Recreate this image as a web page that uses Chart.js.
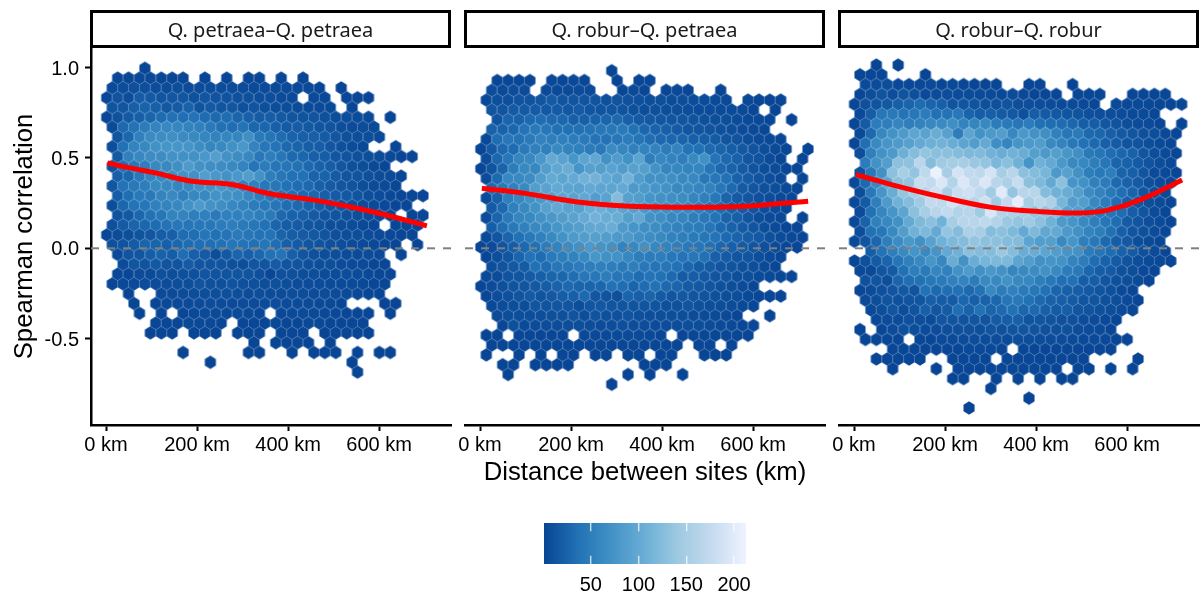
<!DOCTYPE html>
<html>
<head>
<meta charset="utf-8">
<script src="https://cdn.jsdelivr.net/npm/chart.js@4"></script>
<style>
body { margin: 0; background: #fff; overflow: hidden; }
canvas { position: absolute; left: 0; top: 0; }
.strip {
    position: absolute; top: 10px; width: 355px; height: 32px;
    border: 3px solid #000; text-align: center; color: #1a1a1a;
    font: 20px/33px "Noto Sans", sans-serif;
}
</style>
</head>
<body>
<canvas id="panel1" width="1300" height="599"></canvas>
<canvas id="panel2" width="1300" height="599"></canvas>
<canvas id="panel3" width="1300" height="599"></canvas>
<canvas id="colorbar" width="1200" height="599"></canvas>
<div class="strip" style="left:90px">Q. petraea–Q. petraea</div>
<div class="strip" style="left:464px">Q. robur–Q. petraea</div>
<div class="strip" style="left:838px">Q. robur–Q. robur</div>
<script>
// hex counts, one array per hex row from the top: [first column, counts...], 0 = empty cell
const petraeaCounts = [
    [4, 2],
    [1, 3,3,4,4,3,3,3,0,2,0,2,0,2,3,0,2,0,2],
    [1, 5,7,9,9,7,6,8,6,6,7,7,6,6,5,6,5,5,5,4,3,0,1],
    [0, 3,12,7,19,17,13,15,15,11,15,12,12,10,10,8,8,6,5,0,5,4,0,2,3,2],
    [1, 12,15,22,25,22,16,18,24,12,17,13,15,10,12,9,8,8,6,5,5,4,0,3],
    [0, 3,11,17,22,26,32,36,35,38,32,30,32,27,23,19,20,17,14,12,13,10,8,8,6,4,0,1],
    [1, 5,30,38,48,55,60,58,56,52,46,36,34,38,28,28,22,18,19,16,14,12,8,6,7,5],
    [1, 14,28,52,64,66,68,64,62,58,54,58,58,68,46,40,32,25,22,22,18,15,10,8,8,4],
    [1, 8,36,55,62,70,75,75,75,66,58,62,70,78,56,42,38,30,25,20,20,15,10,6,4,0,0,2],
    [1, 17,52,60,66,66,72,70,72,78,86,72,66,60,44,50,42,30,28,22,20,15,12,10,8,6,4,3,3],
    [1, 10,35,45,50,62,62,68,82,70,68,66,62,56,40,48,40,40,36,30,24,20,15,10,8,4,3],
    [1, 22,28,45,58,62,68,72,70,85,78,72,78,85,72,50,42,36,36,25,25,18,14,12,9,6,5,3],
    [1, 15,38,45,50,62,62,58,62,70,72,78,72,55,52,44,42,36,32,30,22,18,15,12,8,6,5,3],
    [1, 20,34,45,45,55,62,52,60,62,72,70,68,60,50,44,40,36,30,28,22,18,16,12,8,6,4,3,2,2],
    [1, 8,28,38,42,52,55,60,72,80,72,68,60,55,48,45,40,34,30,24,20,15,12,9,7,5,4,3,3],
    [1, 12,16,28,36,42,55,55,50,52,46,52,52,56,50,46,30,24,22,18,14,12,10,8,6,4,3,0,2,2],
    [1, 10,18,26,28,32,38,42,40,42,44,48,50,46,42,36,26,20,18,14,12,8,8,6,4,3,0,3,2,2],
    [0, 3,6,8,12,15,20,22,32,34,40,36,38,46,40,38,38,26,20,18,16,12,9,8,8,6,5,4,3,2],
    [1, 10,12,18,26,26,22,28,32,35,35,36,40,38,36,40,34,22,18,15,12,10,8,6,5,4,3,2,0,1],
    [1, 5,12,14,20,24,20,34,22,18,8,16,26,22,28,36,38,22,14,10,8,8,6,5,6,5,0,2],
    [2, 6,14,12,16,12,12,18,14,14,12,10,8,14,14,18,14,12,10,8,8,6,5,5,3,2],
    [1, 3,3,6,5,10,8,10,10,14,12,12,14,12,10,3,10,10,8,8,6,6,8,6,4,3,2],
    [1, 2,4,5,6,6,7,8,8,12,10,10,12,10,10,8,10,8,6,6,6,5,5,5,4,3,2],
    [2, 1,0,0,5,5,6,7,8,8,9,8,6,8,6,6,8,7,6,6,6,5,4,3,2],
    [3, 1,0,3,4,4,5,6,7,6,5,6,6,6,7,6,6,5,4,4,3,0,0,0,1,1],
    [3, 1,0,2,0,3,4,5,5,4,5,4,3,0,4,5,5,4,4,4,3,3,2,0,1],
    [5, 2,3,3,4,4,4,3,0,3,3,3,4,3,3,4,4,3,3,2,2],
    [4, 1,2,1,0,1,2,1,0,1,1,2,0,2,3,2,0,1,2,2,1,1],
    [14, 1,0,1,2,2,1,0,1],
    [7, 1,0,0,0,0,0,1,1,0,0,1,0,1,1,1,0,1,0,1,1],
    [10, 1,0,0,0,0,0,0,0,0,0,0,0,0,1],
    [23, 1]
];
const mixedCounts = [
    [12, 1],
    [1, 3,3,3,3,0,4,3,4,3,0,0,1,0,2,2],
    [1, 7,5,7,6,0,5,4,5,6,5,0,0,3,4,2,0,3,4,3,0,0,1],
    [0, 4,9,9,12,12,13,18,13,14,13,14,10,12,11,10,8,9,7,8,7,6,5,4,0,4,3,2,2],
    [1, 14,13,18,17,18,16,18,15,18,14,12,13,12,10,8,10,8,8,7,6,6,5,5,4,3,0,1],
    [1, 12,26,24,30,34,30,28,22,22,24,26,30,22,18,16,15,14,14,12,10,8,8,6,4,4,3,0,1],
    [1, 24,24,28,38,46,42,36,36,36,38,42,44,46,36,28,25,22,18,14,14,12,10,8,6,4,3],
    [0, 4,32,42,38,46,54,50,52,48,46,38,38,42,48,40,34,30,28,26,22,20,18,14,12,8,6,4,3],
    [0, 2,16,30,32,46,52,52,62,56,52,48,45,64,58,52,56,54,48,56,38,36,30,26,20,16,12,8,5,3,0,1],
    [0, 6,28,42,58,62,78,100,92,76,95,98,72,84,72,95,50,60,56,50,62,70,38,30,24,15,12,6,3,0,2],
    [0, 3,12,26,48,62,60,85,98,105,75,90,88,92,84,90,88,72,58,60,56,58,40,30,24,18,12,8,6,3,3],
    [0, 6,30,60,62,66,85,100,95,100,110,112,100,92,112,85,70,72,68,62,60,44,42,36,24,18,12,8,4,0,2],
    [1, 30,45,52,62,85,92,100,96,92,100,96,95,100,80,80,75,72,62,64,58,54,42,30,18,14,10,8,5,3],
    [0, 5,22,50,60,72,78,85,95,92,98,85,92,125,90,85,75,72,68,66,58,52,42,26,18,15,10,7,4,2],
    [1, 18,30,52,62,72,90,98,92,90,105,108,100,95,88,78,70,68,65,62,50,42,32,22,18,12,8,5,3],
    [0, 6,26,45,58,62,72,78,85,92,102,112,105,105,88,100,72,68,60,58,50,44,38,25,22,14,8,5,4,0,1],
    [1, 20,34,45,52,62,66,75,82,88,98,100,105,82,75,68,66,60,54,50,48,40,30,24,18,14,8,5,3,2],
    [0, 4,14,26,36,45,52,62,72,80,85,88,85,80,80,72,66,62,54,50,46,40,38,30,25,20,16,10,6,4,3],
    [0, 2,6,14,20,30,36,48,55,65,70,80,75,70,55,60,70,60,55,50,45,42,36,28,22,18,14,10,6,3,2],
    [0, 2,8,14,26,38,32,46,50,54,62,76,70,72,60,50,48,50,44,38,42,36,22,18,14,14,8,5,3],
    [1, 8,12,16,18,36,32,42,42,48,50,52,50,46,50,44,38,40,36,28,20,18,14,12,10,8,5,3],
    [0, 4,6,12,14,18,22,26,28,34,42,42,48,40,42,32,38,36,30,18,20,16,14,12,8,8,5,4,2,2],
    [0, 2,6,10,12,14,16,20,24,30,26,26,28,36,34,26,32,36,30,26,18,16,14,10,8,6,3],
    [0, 3,7,10,14,18,12,16,20,22,30,15,12,9,26,22,26,18,14,16,14,12,10,8,8,4,3,2,2],
    [1, 4,7,8,8,14,12,14,14,8,14,16,14,14,12,14,12,10,10,14,10,8,8,6,4,3],
    [1, 5,8,8,8,8,10,10,12,8,12,10,10,12,10,8,8,8,8,6,6,5,4,3,0,0,1],
    [2, 3,10,5,6,7,7,8,8,7,6,7,9,7,7,6,7,7,8,8,6,5,4,3,2],
    [0, 1,1,0,3,3,3,3,2,0,4,4,4,5,5,5,4,3,0,3,3,3,3,3,2,2],
    [1, 1,2,3,3,3,3,3,3,3,3,2,3,3,3,3,2,2,2,0,2,2,0,1],
    [0, 1,0,0,1,0,1,0,2,1,0,1,2,0,1,2,0,2,1,0,0,1,1,1],
    [2, 1,1,0,1,1,1,1,0,0,0,0,0,0,1,1,1],
    [2, 1,0,0,0,0,0,0,0,0,0,0,1,0,1,0,0,1],
    [12, 1]
];
const roburCounts = [
    [2, 1,0,1],
    [0, 2,3,2,0,0,0,1],
    [1, 5,6,8,4,4,4,5,3,4,3,3,3,2,0,0,2,3,0,0,1],
    [0, 3,8,12,8,12,9,5,6,7,6,6,5,5,4,6,4,3,3,2,0,2,3,2,0,0,3,3,3,2],
    [0, 3,10,12,16,22,26,32,26,22,12,14,12,10,10,12,8,8,7,6,5,5,4,3,0,4,4,4,4,3,2,2],
    [0, 5,20,42,45,38,42,48,36,38,44,26,20,22,18,16,10,20,18,16,14,12,10,8,8,6,5,5,3],
    [0, 3,18,48,50,58,50,56,60,64,68,55,58,62,48,46,42,48,36,34,32,28,20,20,15,12,8,6,5,3,0,1],
    [0, 4,30,60,72,82,95,92,105,90,50,95,72,80,85,60,78,72,68,52,42,46,30,28,22,16,14,10,8,4,3],
    [0, 2,35,62,75,82,90,100,108,112,105,95,85,100,68,58,75,80,85,62,55,44,36,30,22,18,12,12,8,5,2],
    [0, 8,52,72,80,108,125,135,128,130,125,120,122,112,105,110,105,88,80,88,76,68,46,40,34,28,24,14,8,5,3],
    [1, 48,72,85,130,132,168,125,145,148,150,140,135,118,128,110,75,110,100,78,62,60,50,42,26,24,18,12,8,4],
    [0, 10,45,70,130,150,135,170,210,150,190,175,170,190,150,165,130,125,115,80,90,70,50,45,50,25,22,14,6,4,3],
    [0, 4,30,60,95,130,135,180,175,195,160,195,175,195,165,155,178,130,120,100,130,75,70,52,48,30,24,18,10,6,3],
    [0, 8,45,75,105,135,150,165,185,150,180,185,170,145,200,135,165,165,125,110,105,88,65,55,45,35,25,14,8,4],
    [0, 4,18,50,80,110,125,145,175,170,190,170,165,185,145,175,205,150,165,155,115,85,85,60,48,35,22,14,8,5,3],
    [0, 6,36,58,75,95,130,150,165,175,160,165,145,195,160,155,150,135,135,130,90,88,60,45,40,32,20,14,6,3],
    [0, 4,24,52,60,70,100,120,130,110,150,165,165,170,160,140,135,145,130,110,80,75,62,50,42,34,18,14,8,5,3],
    [0, 8,36,42,62,85,110,120,100,135,125,155,150,125,130,120,100,120,98,100,80,70,56,50,36,22,14,10,6,3],
    [0, 4,14,28,50,65,78,70,90,110,120,125,135,130,130,125,125,95,85,88,62,75,50,44,30,20,16,8,5,3],
    [1, 20,38,50,62,75,62,75,100,110,130,125,125,140,125,105,105,95,85,75,72,48,40,32,24,18,10,6,3],
    [0, 3,10,18,26,40,52,62,75,60,105,72,105,115,120,120,95,85,70,75,72,55,48,32,24,18,12,8,5,4,2],
    [0, 4,4,14,18,36,50,46,58,52,72,82,70,78,72,58,62,65,70,62,48,45,28,20,18,10,8,4,3],
    [1, 10,12,8,26,34,36,44,46,52,56,48,62,62,72,62,60,50,44,35,36,20,20,14,10,8,5,3],
    [0, 3,6,10,14,16,12,36,30,34,36,30,36,62,48,52,46,42,36,26,22,20,16,12,10,5,3],
    [1, 5,8,12,10,12,14,22,20,18,28,22,24,28,40,44,36,30,24,22,18,14,14,10,8,5,3],
    [1, 5,8,14,8,12,22,14,18,34,24,36,26,30,36,28,30,22,18,20,14,12,10,8,5,3],
    [2, 4,6,6,10,8,6,14,14,12,14,12,18,20,22,12,14,12,10,10,6,6,4,3],
    [0, 1,0,3,6,10,8,6,6,8,10,10,9,12,10,12,14,12,10,10,10,6,6,5,3],
    [1, 1,2,3,2,0,3,3,5,5,6,7,6,7,6,8,8,7,7,6,5,4,5,4,2,1],
    [3, 2,2,3,3,3,3,3,4,4,4,3,0,3,3,3,3,3,3,3,2,2],
    [2, 1,2,2,2,1,0,0,2,3,3,3,0,3,3,3,3,3,3,2,2,0,0,0,0,1],
    [3, 1,0,0,0,1,0,2,2,2,3,3,3,2,2,2,2,0,1,1,0,1,0,1],
    [9, 1,1,0,0,1,0,1,0,1,0,1,1],
    [12, 1],
    [16, 1],
    [10, 1]
];

// hex grid of each facet: km of column 0, correlation of row 0
const gridOriginKm = [-10.4, 1.8, 1.1];
const gridTopCorr = [0.9963, 0.9830, 1.0146];
const hexStepKm = 23.96;
const hexStepCorr = 0.05424;

// loess curves
const petraeaSmoothKm = [3, 53, 111, 185, 279, 360, 455, 551, 624, 705];
const petraeaSmooth = [0.472, 0.445, 0.416, 0.373, 0.352, 0.302, 0.268, 0.222, 0.179, 0.124];
const mixedSmoothKm = [4, 99, 209, 319, 443, 553, 648, 721];
const mixedSmooth = [0.332, 0.304, 0.258, 0.234, 0.227, 0.230, 0.245, 0.260];
const roburSmoothKm = [4, 79, 189, 299, 409, 497, 555, 629, 721];
const roburSmooth = [0.408, 0.355, 0.286, 0.228, 0.203, 0.196, 0.210, 0.268, 0.378];

const xTicks = [0, 200, 400, 600];
const yTicks = [-0.5, 0, 0.5, 1];
const legendTicks = [50, 100, 150, 200];
const xLimits = [-33, 758];
const yLimits = [-0.978, 1.1087];
const countLimits = [1, 212.5];
const blues = ['#084594', '#2171b5', '#4292c6', '#6baed6', '#9ecae1', '#c6dbef', '#eff3ff'];

const tickFont = { family: '"Liberation Sans"', size: 20 };
const titleFont = { family: '"Liberation Sans"', size: 25.7 };

function hexToRgb(h) {
    return [1, 3, 5].map(i => parseInt(h.slice(i, i + 2), 16));
}

function countColor(n) {
    const t = Math.min(1, (n - countLimits[0]) / (countLimits[1] - countLimits[0])) * (blues.length - 1);
    const i = Math.min(blues.length - 2, Math.floor(t));
    const a = hexToRgb(blues[i]), b = hexToRgb(blues[i + 1]);
    const c = a.map((v, k) => Math.round(v + (b[k] - v) * (t - i)));
    return `rgb(${c[0]},${c[1]},${c[2]})`;
}

// canvas point styles, one per count
const sprites = {};
function hexSprite(n) {
    if (sprites[n]) return sprites[n];
    const cv = document.createElement('canvas');
    cv.width = 14;
    cv.height = 16;
    const c = cv.getContext('2d');
    const w = 5.6, r = 6.7;
    c.translate(7, 8);
    c.beginPath();
    c.moveTo(0, -r);
    c.lineTo(w, -r / 2);
    c.lineTo(w, r / 2);
    c.lineTo(0, r);
    c.lineTo(-w, r / 2);
    c.lineTo(-w, -r / 2);
    c.closePath();
    c.fillStyle = countColor(n);
    c.fill();
    c.strokeStyle = 'rgba(255,255,255,0.2)';
    c.lineWidth = 0.5;
    c.stroke();
    sprites[n] = cv;
    return cv;
}

function hexPoints(rows, facet) {
    const pts = [];
    rows.forEach((row, r) => {
        row.slice(1).forEach((n, i) => {
            if (!n) return;
            pts.push({
                x: gridOriginKm[facet] + hexStepKm * (row[0] + i + (r % 2) / 2),
                y: gridTopCorr[facet] - hexStepCorr * r,
                n: n
            });
        });
    });
    return pts;
}

function panel(id, facet, rows, smoothKm, smooth, left) {
    const showY = facet === 0;
    new Chart(document.getElementById(id), {
        type: 'scatter',
        data: {
            datasets: [{
                data: hexPoints(rows, facet),
                pointStyle: c => hexSprite(c.raw.n),
                pointRadius: 5,
                order: 3
            }, {
                data: xLimits.map(x => ({ x: x, y: 0 })),
                showLine: true,
                borderColor: '#808080',
                borderWidth: 2,
                borderDash: [8, 8],
                pointRadius: 0,
                order: 2
            }, {
                data: smoothKm.map((x, i) => ({ x: x, y: smooth[i] })),
                showLine: true,
                tension: 0.4,
                borderColor: '#ff0000',
                borderWidth: 5,
                pointRadius: 0,
                order: 1
            }]
        },
        options: {
            responsive: false,
            animation: false,
            layout: {
                padding: {
                    left: showY ? 0 : left,
                    right: 1300 - left - 360,
                    top: 48,
                    bottom: 111
                }
            },
            plugins: {
                legend: { display: false },
                tooltip: { enabled: false }
            },
            scales: {
                x: {
                    type: 'linear',
                    min: xLimits[0],
                    max: xLimits[1],
                    afterBuildTicks: s => { s.ticks = xTicks.map(v => ({ value: v })); },
                    afterFit: s => { s.height = 63; },
                    border: { display: true, color: '#000', width: 2.5 },
                    grid: { drawOnChartArea: false, tickColor: '#000', tickWidth: 2, tickLength: 6 },
                    ticks: {
                        color: '#000',
                        font: tickFont,
                        padding: 2,
                        maxRotation: 0,
                        callback: v => v + ' km'
                    },
                    title: {
                        display: facet === 1,
                        text: 'Distance between sites (km)',
                        color: '#000',
                        font: titleFont,
                        padding: { top: 0, bottom: 0 }
                    }
                },
                y: {
                    type: 'linear',
                    display: showY,
                    min: yLimits[0],
                    max: yLimits[1],
                    afterBuildTicks: s => { s.ticks = yTicks.map(v => ({ value: v })); },
                    afterFit: s => { if (showY) s.width = 91; },
                    border: { display: true, color: '#000', width: 2.5 },
                    grid: { drawOnChartArea: false, tickColor: '#000', tickWidth: 2, tickLength: 6 },
                    ticks: {
                        color: '#000',
                        font: tickFont,
                        padding: 6,
                        labelOffset: 1.5,
                        callback: v => v.toFixed(1)
                    },
                    title: {
                        display: true,
                        text: 'Spearman correlation',
                        color: '#000',
                        font: titleFont,
                        padding: { top: 9, bottom: 0 }
                    }
                }
            }
        }
    });
}

panel('panel1', 0, petraeaCounts, petraeaSmoothKm, petraeaSmooth, 91);
panel('panel2', 1, mixedCounts, mixedSmoothKm, mixedSmooth, 465);
panel('panel3', 2, roburCounts, roburSmoothKm, roburSmooth, 839);

new Chart(document.getElementById('colorbar'), {
    type: 'bar',
    data: {
        labels: ['count'],
        datasets: [{
            data: [countLimits],
            barPercentage: 1,
            categoryPercentage: 1,
            backgroundColor: c => {
                const a = c.chart.chartArea;
                if (!a) return blues[0];
                const g = c.chart.ctx.createLinearGradient(a.left, 0, a.right, 0);
                blues.forEach((b, i) => g.addColorStop(i / (blues.length - 1), b));
                return g;
            }
        }]
    },
    options: {
        indexAxis: 'y',
        responsive: false,
        animation: false,
        layout: { padding: { left: 544, right: 454, top: 523, bottom: 5 } },
        plugins: {
            legend: { display: false },
            tooltip: { enabled: false }
        },
        scales: {
            x: {
                type: 'linear',
                min: countLimits[0],
                max: countLimits[1],
                afterBuildTicks: s => { s.ticks = legendTicks.map(v => ({ value: v })); },
                afterFit: s => { s.height = 30; },
                border: { display: false, dash: [8.2, 24.6] },
                grid: { color: 'rgba(255,255,255,0.75)', lineWidth: 1.4, drawTicks: false, z: 1 },
                ticks: { color: '#000', font: tickFont, padding: 9, maxRotation: 0 }
            },
            y: { display: false }
        }
    }
});
</script>
</body>
</html>
